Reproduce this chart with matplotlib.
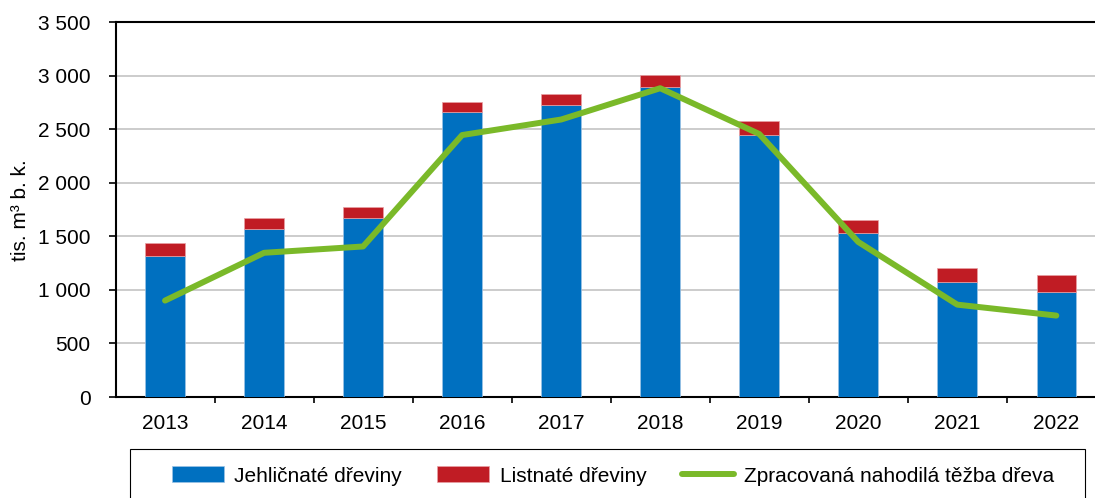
import numpy as np
import matplotlib
matplotlib.use('Agg')
import matplotlib.pyplot as plt
from matplotlib.patches import Rectangle
from matplotlib.ticker import FuncFormatter, FixedLocator

plt.rcParams['font.family'] = ['Liberation Sans', 'DejaVu Sans']

# data (tis. m3 b. k.)
years = ['2013', '2014', '2015', '2016', '2017', '2018', '2019', '2020', '2021', '2022']
jehlicnate = [1315, 1568, 1670, 2662, 2728, 2895, 2445, 1531, 1078, 978]
listnate = [122, 102, 103, 91, 100, 110, 131, 121, 123, 159]
nahodila = [900, 1346, 1405, 2445, 2590, 2882, 2455, 1447, 862, 760]

blue = '#0070c0'
red = '#c01c24'
green = '#7ab929'

fig = plt.figure(figsize=(10.95, 4.98), dpi=100)
ax = fig.add_axes([0.1055, 0.2028, 0.9044, 0.753])

x = np.arange(len(years))
b1 = ax.bar(x, jehlicnate, width=0.4, color=blue, edgecolor='#9dc3e6', linewidth=0.5,
            label='Jehličnaté dřeviny', zorder=3)
b2 = ax.bar(x, listnate, width=0.4, bottom=jehlicnate, color=red, edgecolor='#e8a0a4',
            linewidth=0.5, label='Listnaté dřeviny', zorder=3)
l1, = ax.plot(x, nahodila, color=green, linewidth=4.3, solid_capstyle='round',
              label='Zpracovaná nahodilá těžba dřeva', zorder=4)

ax.set_xlim(-0.5, len(years) - 0.5)
ax.set_ylim(0, 3500)
ax.set_yticks(np.arange(0, 3501, 500))
ax.yaxis.set_major_formatter(FuncFormatter(lambda v, p: f'{int(v):,}'.replace(',', ' ')))
ax.grid(axis='y', color='#c8c8c8', linewidth=1.3, zorder=0)

ax.set_xticks(x)
ax.set_xticklabels(years)
ax.xaxis.set_minor_locator(FixedLocator(np.arange(0.5, len(years) - 0.5, 1)))
ax.tick_params(axis='x', which='major', length=0, pad=12, labelsize=15)
ax.tick_params(axis='x', which='minor', length=4.5, width=1.2, direction='out')
ax.tick_params(axis='y', length=5, width=1.2, pad=13, labelsize=15)

for s in ['left', 'bottom', 'top']:
    ax.spines[s].set_linewidth(1.5)
    ax.spines[s].set_color('black')
ax.spines['right'].set_visible(False)

fig.text(21 / 1095, 1 - 210 / 498, 'tis. m³ b. k.', rotation=90,
         ha='center', va='center', fontsize=15)

# legend box
fig.patches.append(Rectangle((130 / 1095, 1 - 506 / 498), (1085 - 130) / 1095, 57 / 498,
                             transform=fig.transFigure, fill=False,
                             edgecolor='black', linewidth=0.8))
fig.legend([b1, b2, l1], [b1.get_label(), b2.get_label(), l1.get_label()],
           loc='center', bbox_to_anchor=(613 / 1095, 1 - 476 / 498),
           ncol=3, frameon=False, fontsize=15, handlelength=2.5, handleheight=0.8,
           handletextpad=0.5, columnspacing=1.7)

fig.savefig('out.png', dpi=100)
